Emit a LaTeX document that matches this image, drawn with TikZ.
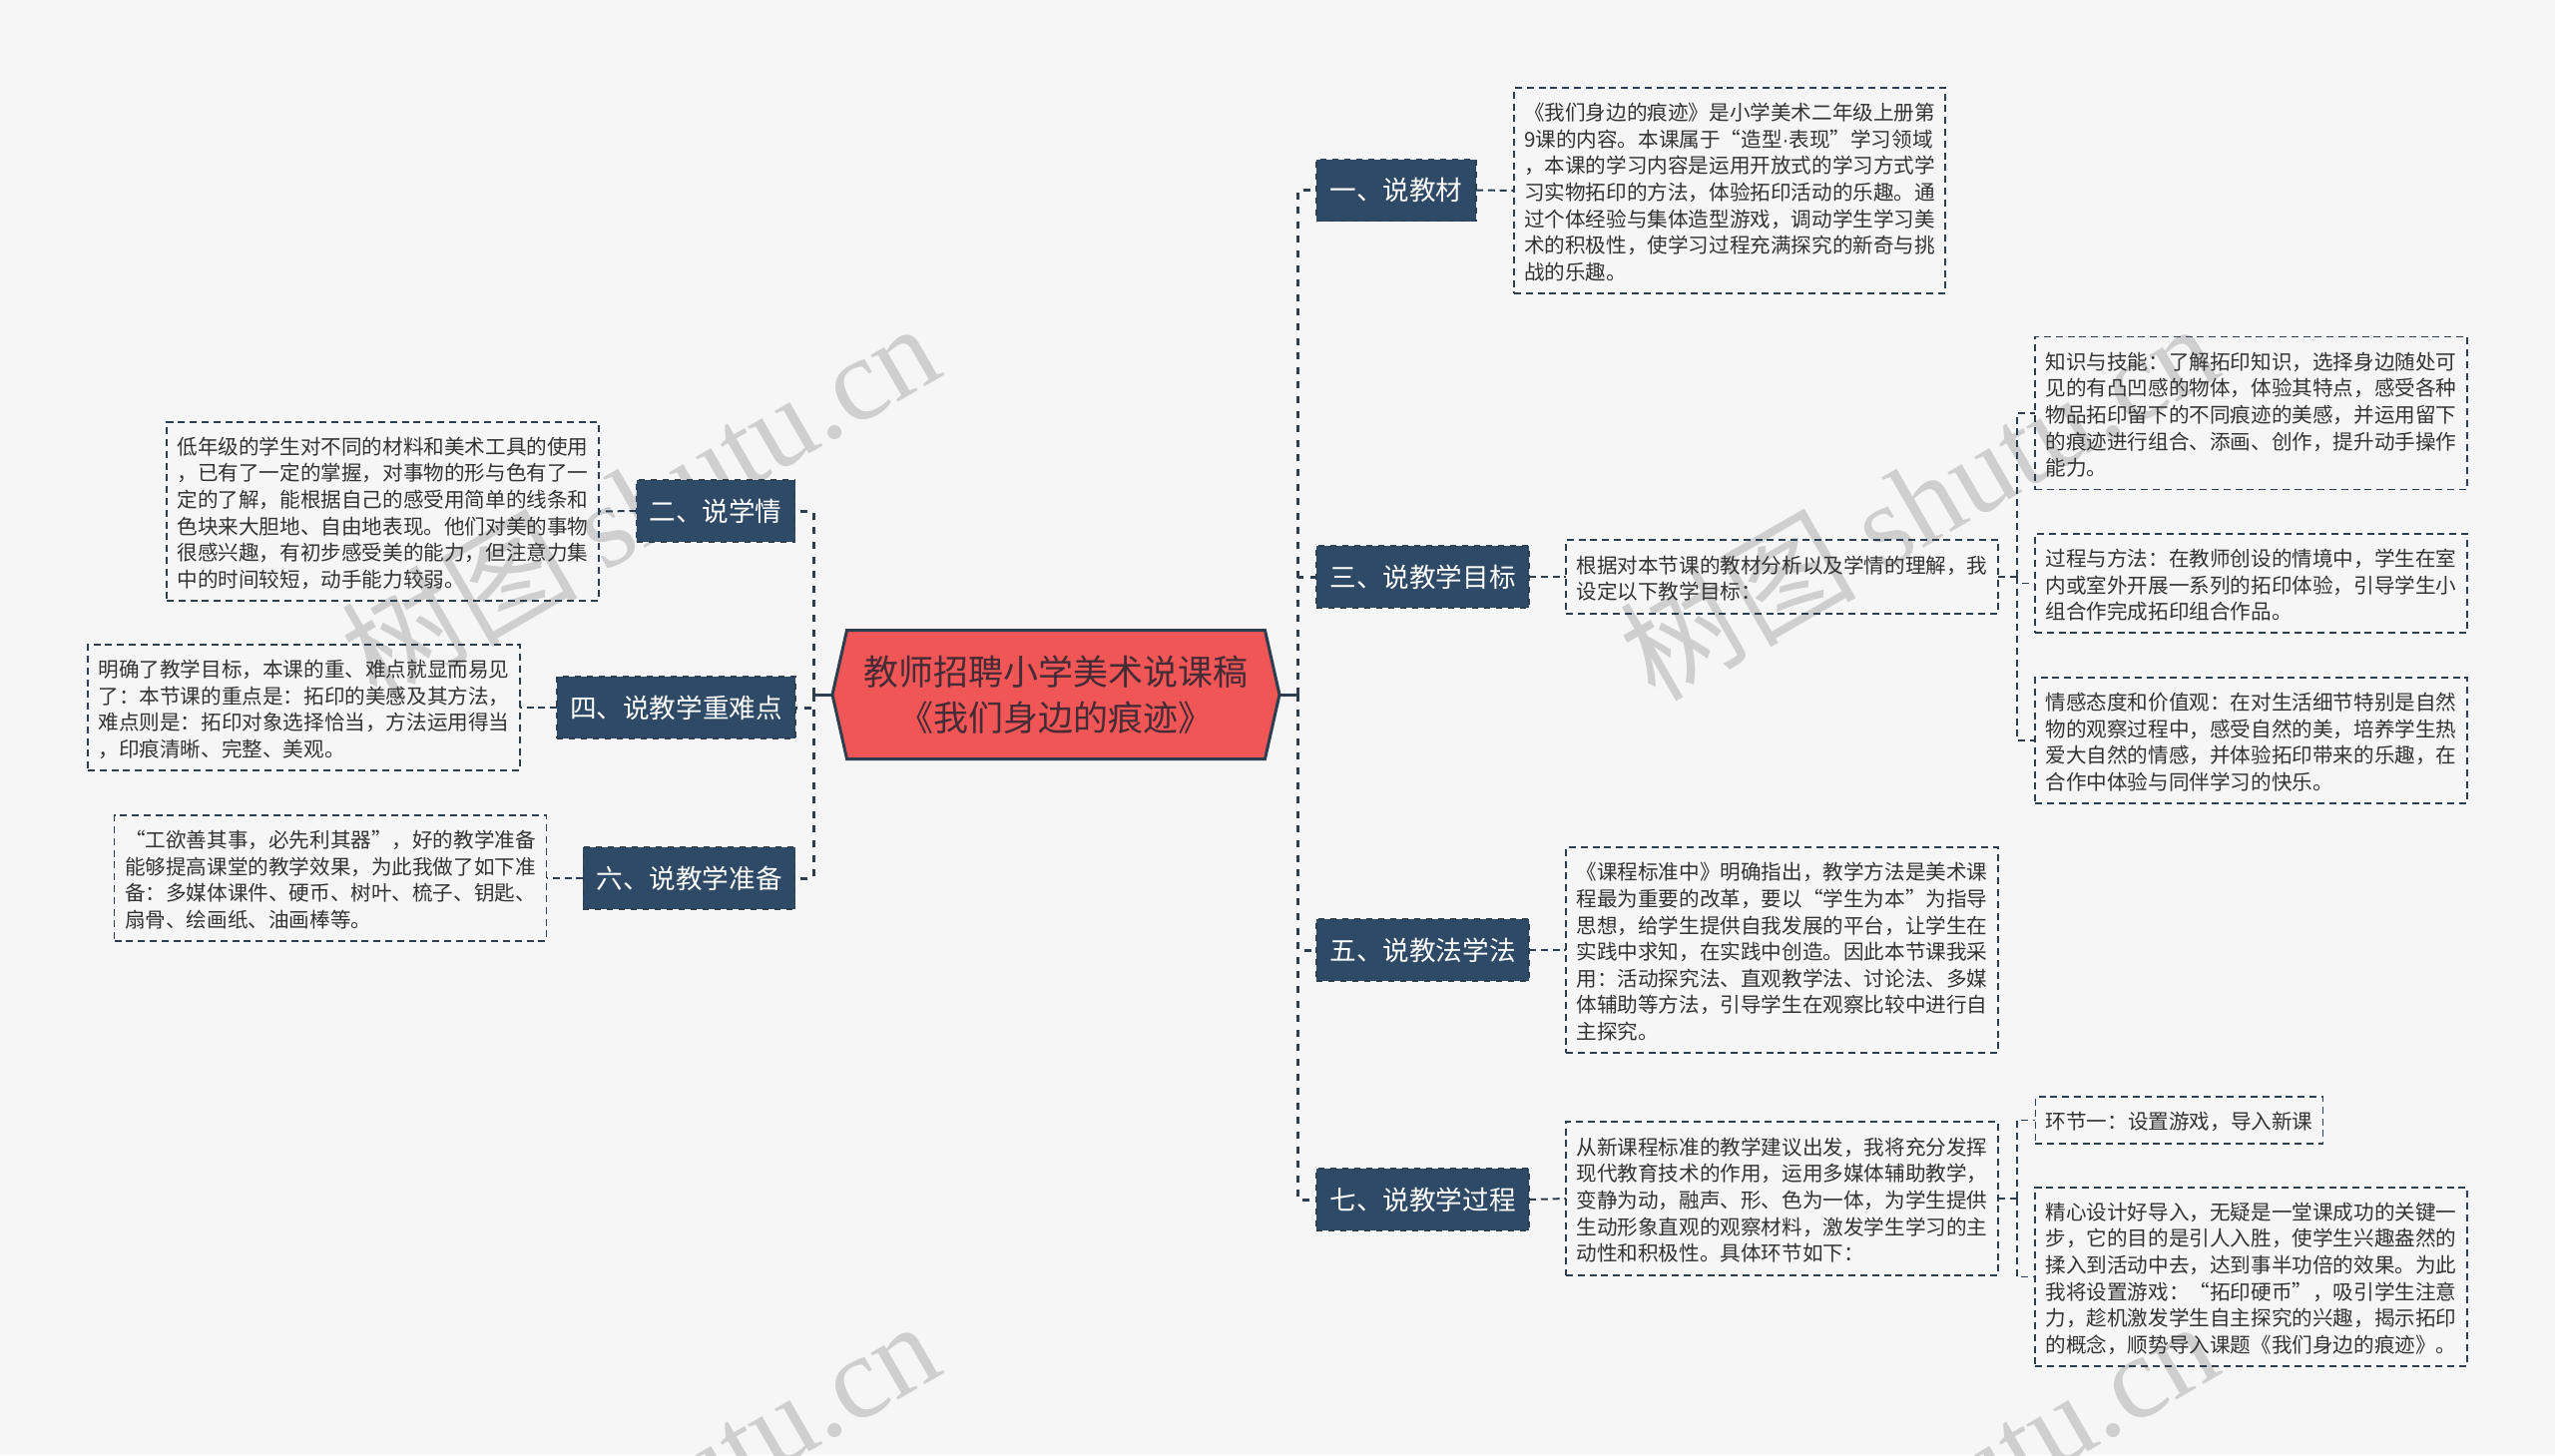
\documentclass[tikz,border=0pt]{standalone}
\usepackage{fontspec}
\setmainfont{Noto Sans CJK SC}
\newfontfamily\markfont{Liberation Serif}
\newfontfamily\dotfont{Liberation Sans}
\usetikzlibrary{positioning,shapes.symbols}
\definecolor{pagebg}{HTML}{F6F6F6}
\definecolor{navy}{HTML}{2C3E50}
\definecolor{slate}{HTML}{2F4A66}
\definecolor{coral}{HTML}{F05656}
\definecolor{inkred}{HTML}{452B36}
\definecolor{ink}{HTML}{333333}
\definecolor{markgray}{HTML}{CFCFCF}
\newcommand{\topgap}{\rule{0pt}{10.4pt}}
\tikzset{
    hub/.style={signal,signal to=west and east,signal pointer angle=154.6,draw=navy,line width=1.5pt,fill=coral,text=inkred,minimum width=224pt,minimum height=64.5pt,inner sep=0pt,outer sep=0pt,align=center,font=\fontsize{17.5}{23.3}\selectfont},
    branch/.style={rectangle,draw=navy,dashed,line width=0.8pt,fill=slate,text=white,minimum height=31pt,inner xsep=6.5pt,inner ysep=0pt,outer sep=0pt,font=\fontsize{13.3}{16}\selectfont},
    detail/.style={rectangle,draw=navy,line width=0.75pt,dash pattern=on 3.5pt off 2.4pt,text=ink,inner sep=0pt,outer sep=0pt,align=left,font=\fontsize{10.3}{13.3}\selectfont},
    stub/.style={draw=navy,line width=1.5pt},
    trunk/.style={draw=navy,line width=1.5pt,dash pattern=on 3.5pt off 3.8pt},
    twig/.style={draw=navy,line width=1pt,dash pattern=on 3.5pt off 2.4pt},
    thin twig/.style={draw=navy,line width=0.75pt,dash pattern=on 3.5pt off 2.4pt},
    watermark/.style={anchor=base east,rotate=30,inner sep=0pt,text=markgray,font=\fontsize{59}{59}\selectfont},
}

\begin{document}
\begin{tikzpicture}[x=0.5pt,y=-0.5pt]
    \path[use as bounding box,fill=pagebg] (0,0) rectangle (2560,1458);

    % watermarks sit behind everything
    \foreach \wx/\wy in {949/375,2230/375,949/1375,2230/1375}{
        \node[watermark] at (\wx,\wy) {树图 {\markfont shutu.cn}};
    }

    \node[hub] (root) at (1058,696) {教师招聘小学美术说课稿\\《我们身边的痕迹》};

    % right side
    \node[branch,minimum width=80pt] (b1) at (1399,190.5) {一、说教材};
    \node[branch,minimum width=106.5pt] (b3) at (1425.5,578) {三、说教学目标};
    \node[branch,minimum width=106.5pt] (b5) at (1425.5,952) {五、说教法学法};
    \node[branch,minimum width=106.5pt] (b7) at (1425.5,1202) {七、说教学过程};

    % left side
    \node[branch,minimum width=79.5pt] (b2) at (717,512) {二、说学情};
    \node[branch,minimum width=119pt] (b4) at (677.5,709) {四、说教学重难点};
    \node[branch,minimum width=106pt] (b6) at (690.5,880) {六、说教学准备};

    \node[detail,minimum width=216pt,minimum height=103pt] (d1) at (1733,191) {\topgap{}《我们身边的痕迹》是小学美术二年级上册第\\9课的内容。本课属于“造型{\dotfont ·}表现”学习领域\\，本课的学习内容是运用开放式的学习方式学\\习实物拓印的方法，体验拓印活动的乐趣。通\\过个体经验与集体造型游戏，调动学生学习美\\术的积极性，使学习过程充满探究的新奇与挑\\战的乐趣。};
    \node[detail,minimum width=216.5pt,minimum height=37pt] (d3) at (1785.5,578) {\topgap{}根据对本节课的教材分析以及学情的理解，我\\设定以下教学目标：};
    \node[detail,minimum width=216.5pt,minimum height=103pt] (d5) at (1785.5,952) {\topgap{}《课程标准中》明确指出，教学方法是美术课\\程最为重要的改革，要以“学生为本”为指导\\思想，给学生提供自我发展的平台，让学生在\\实践中求知，在实践中创造。因此本节课我采\\用：活动探究法、直观教学法、讨论法、多媒\\体辅助等方法，引导学生在观察比较中进行自\\主探究。};
    \node[detail,minimum width=216.5pt,minimum height=77pt] (d7) at (1785.5,1201) {\topgap{}从新课程标准的教学建议出发，我将充分发挥\\现代教育技术的作用，运用多媒体辅助教学，\\变静为动，融声、形、色为一体，为学生提供\\生动形象直观的观察材料，激发学生学习的主\\动性和积极性。具体环节如下：};

    \node[detail,minimum width=216.5pt,minimum height=89.5pt] (d2) at (383.5,512.5) {\topgap{}低年级的学生对不同的材料和美术工具的使用\\，已有了一定的掌握，对事物的形与色有了一\\定的了解，能根据自己的感受用简单的线条和\\色块来大胆地、自由地表现。他们对美的事物\\很感兴趣，有初步感受美的能力，但注意力集\\中的时间较短，动手能力较弱。};
    \node[detail,minimum width=216.5pt,minimum height=63pt] (d4) at (304.5,709) {\topgap{}明确了教学目标，本课的重、难点就显而易见\\了：本节课的重点是：拓印的美感及其方法，\\难点则是：拓印对象选择恰当，方法运用得当\\，印痕清晰、完整、美观。};
    \node[detail,minimum width=216.5pt,minimum height=63pt] (d6) at (331,880) {\topgap{}“工欲善其事，必先利其器”，好的教学准备\\能够提高课堂的教学效果，为此我做了如下准\\备：多媒体课件、硬币、树叶、梳子、钥匙、\\扇骨、绘画纸、油画棒等。};

    \node[detail,minimum width=216.5pt,minimum height=76.5pt] (g1) at (2255.5,414) {\topgap{}知识与技能：了解拓印知识，选择身边随处可\\见的有凸凹感的物体，体验其特点，感受各种\\物品拓印留下的不同痕迹的美感，并运用留下\\的痕迹进行组合、添画、创作，提升动手操作\\能力。};
    \node[detail,minimum width=216.5pt,minimum height=49.5pt] (g2) at (2255.5,584.5) {\topgap{}过程与方法：在教师创设的情境中，学生在室\\内或室外开展一系列的拓印体验，引导学生小\\组合作完成拓印组合作品。};
    \node[detail,minimum width=216.5pt,minimum height=63pt] (g3) at (2255.5,742) {\topgap{}情感态度和价值观：在对生活细节特别是自然\\物的观察过程中，感受自然的美，培养学生热\\爱大自然的情感，并体验拓印带来的乐趣，在\\合作中体验与同伴学习的快乐。};

    \node[detail,minimum width=144.2pt,minimum height=23.5pt] (e1) at (2183.5,1122.5) {\topgap{}环节一：设置游戏，导入新课};
    \node[detail,minimum width=216.5pt,minimum height=89.5pt] (e2) at (2255.5,1279.5) {\topgap{}精心设计好导入，无疑是一堂课成功的关键一\\步，它的目的是引人入胜，使学生兴趣盎然的\\揉入到活动中去，达到事半功倍的效果。为此\\我将设置游戏：“拓印硬币”，吸引学生注意\\力，趁机激发学生自主探究的兴趣，揭示拓印\\的概念，顺势导入课题《我们身边的痕迹》。};

    \coordinate (rs) at (1300,696);
    \coordinate (ls) at (815,696);
    \coordinate (s3) at (2021,578);
    \coordinate (s7) at (2021,1201);

    \path[stub]
        (root.east) edge (rs)
        (root.west) edge (ls)
        ;
    \path[trunk]
        (rs) edge[to path={|- (\tikztotarget)}] (b1.west)
        (rs) edge[to path={|- (\tikztotarget)}] (b3.west)
        (rs) edge[to path={|- (\tikztotarget)}] (b5.west)
        (rs) edge[to path={|- (\tikztotarget)}] (b7.west)
        (ls) edge[to path={|- (\tikztotarget)}] (b2.east)
        (ls) edge[to path={|- (\tikztotarget)}] (b4.east)
        (ls) edge[to path={|- (\tikztotarget)}] (b6.east)
        ;
    \path[twig]
        (b1.east) edge (d1.west)
        (b3.east) edge (d3.west)
        (b5.east) edge (d5.west)
        (b7.east) edge (d7.west)
        (b2.west) edge (d2.east)
        (b4.west) edge (d4.east)
        (b6.west) edge (d6.east)
        ;
    \path[thin twig]
        (d3.east) edge (s3)
        (d7.east) edge (s7)
        (s3) edge[to path={|- (\tikztotarget)}] (g1.west)
        (s3) edge[to path={|- (\tikztotarget)}] (g2.west)
        (s3) edge[to path={|- (\tikztotarget)}] (g3.west)
        (s7) edge[to path={|- (\tikztotarget)}] (e1.west)
        (s7) edge[to path={|- (\tikztotarget)}] (e2.west)
        ;
\end{tikzpicture}
\end{document}
